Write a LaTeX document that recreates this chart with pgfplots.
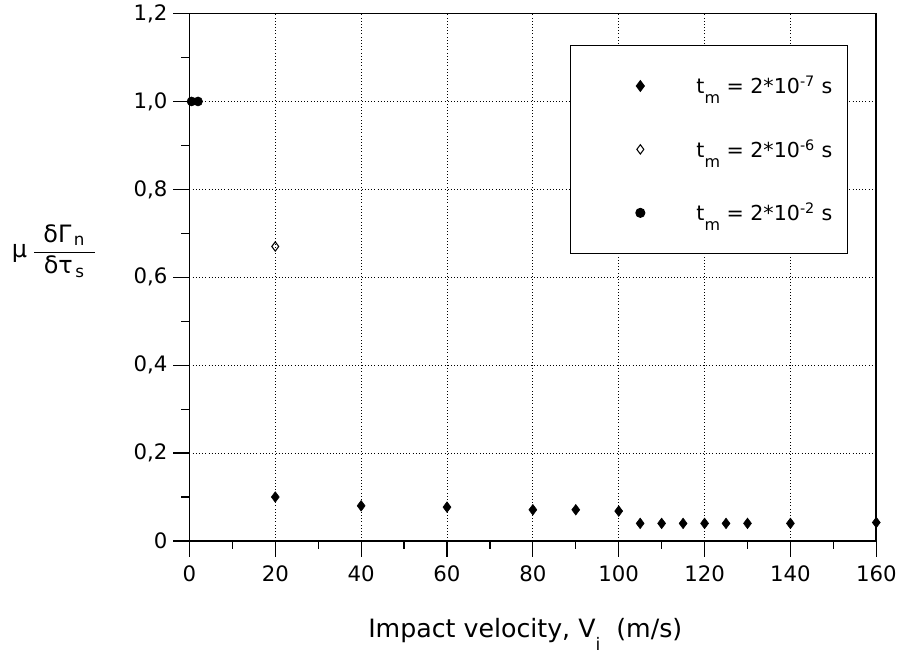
\documentclass[border=0pt]{standalone}
\usepackage{pgfplots}
\pgfplotsset{compat=1.18}
\usepackage{amsmath}
\usepackage{fontspec}
\setmainfont{DejaVu Sans}
\begin{document}
\begin{tikzpicture}
\begin{axis}[
  scale only axis,
  width=517pt, height=397pt,
  xmin=0, xmax=160, ymin=0, ymax=1.2,
  xtick={0,20,...,160},
  minor xtick={10,30,...,150},
  ytick={0,0.2,...,1.2},
  yticklabels={0,{0,2},{0,4},{0,6},{0,8},{1,0},{1,2}},
  minor ytick={0.1,0.3,...,1.1},
  /pgf/number format/assume math mode=true,
  tick align=outside,
  major tick length=12pt, minor tick length=6pt,
  xtick pos=bottom, ytick pos=left,
  every tick/.style={black, line width=0.9pt},
  axis line style={line width=1.2pt},
  grid=major,
  major grid style={dotted, black, line width=0.7pt},
  tick label style={font=\fontsize{16}{19}\selectfont},
  xticklabel style={yshift=-3pt},
  yticklabel style={xshift=-1pt},
  xlabel={Impact velocity, V\raisebox{-0.9ex}{\fontsize{13}{15}\selectfont i}~~(m/s)},
  every axis x label/.style={at={(rel axis cs:0.489,0)}, anchor=base, yshift=-73pt, font=\fontsize{19}{23}\selectfont},
  ylabel={\hspace*{9pt}μ\hspace{4pt}\(\dfrac{\hspace{7pt}\text{δΓ}_{\,\text{n}}\hspace{7pt}}{\hspace{7pt}\text{δτ}_{\,\text{s}}\hspace{7pt}}\)},
  every axis y label/.style={at={(rel axis cs:0,0.55)}, anchor=east, inner sep=0pt, xshift=-70pt, font=\fontsize{18}{22}\selectfont},
  legend style={at={(0.959,0.94)}, anchor=north east, draw=black, line width=0.8pt,
    inner xsep=9.5pt, inner ysep=21pt, row sep=29pt,
    font=\fontsize{15.5}{18}\selectfont, cells={anchor=west}},
  legend image code/.code={\path (0cm,0cm) (2.9cm,0cm); \draw[#1] plot coordinates {(1.5cm,0cm)};},
]
\addplot[only marks, mark=diamond*, mark size=4pt, black] coordinates {
 (20,0.10) (40,0.08) (60,0.077) (80,0.071) (90,0.071) (100,0.068)
 (105,0.04) (110,0.04) (115,0.04) (120,0.04) (125,0.04) (130,0.04)
 (140,0.04) (160,0.042)};
\addlegendentry{t\raisebox{-0.9ex}{\fontsize{12}{14}\selectfont m} = 2*10\textsuperscript{-7} s}
\addplot[only marks, mark=diamond, mark size=3.5pt, black, mark options={line width=0.8pt}] coordinates {(20,0.67)};
\addlegendentry{t\raisebox{-0.9ex}{\fontsize{12}{14}\selectfont m} = 2*10\textsuperscript{-6} s}
\addplot[only marks, mark=*, mark size=3.4pt, black] coordinates {(0.5,1.0) (2,1.0)};
\addlegendentry{t\raisebox{-0.9ex}{\fontsize{12}{14}\selectfont m} = 2*10\textsuperscript{-2} s}
\end{axis}
\end{tikzpicture}
\end{document}
